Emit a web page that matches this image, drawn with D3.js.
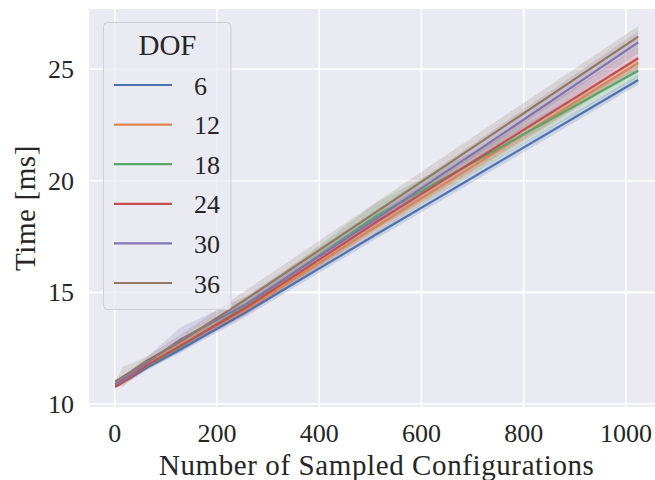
<!DOCTYPE html>
<html>
<head>
<meta charset="utf-8">
<script src="https://cdn.jsdelivr.net/npm/d3@7"></script>
<style>
  html, body { margin: 0; padding: 0; background: #fff; }
  svg { display: block; }
  text { font-family: "Liberation Serif", "DejaVu Serif", serif; fill: #262626; }
</style>
</head>
<body>
<svg id="chart"></svg>
<script>
// Sampled configurations (x)
const samples = [1, 2, 4, 8, 16, 32, 64, 128, 256, 512, 1024];

// DOF groups
const dofs = ['6', '12', '18', '24', '30', '36'];
const colors = ['#4c72b0', '#dd8452', '#55a868', '#c44e52', '#8172b3', '#937860'];

// Mean time [ms] per DOF
const time6  = [10.80, 10.81, 10.83, 10.88, 10.98, 11.18, 11.64, 12.44, 14.10, 17.60, 24.51];
const time12 = [10.88, 10.89, 10.91, 10.96, 11.06, 11.28, 11.76, 12.62, 14.22, 17.95, 25.28];
const time18 = [10.86, 10.87, 10.89, 10.94, 11.04, 11.24, 11.72, 12.55, 14.38, 18.42, 24.92];
const time24 = [10.76, 10.78, 10.81, 10.86, 10.98, 11.22, 11.74, 12.60, 14.30, 18.15, 25.48];
const time30 = [10.90, 10.91, 10.93, 10.99, 11.10, 11.34, 11.86, 12.88, 14.46, 18.30, 26.19];
const time36 = [11.00, 11.02, 11.05, 11.10, 11.22, 11.45, 11.95, 12.79, 14.68, 18.60, 26.45];

// Half-width of the confidence band per DOF
const ci6  = [0.06, 0.05, 0.05, 0.06, 0.08, 0.10, 0.12, 0.15, 0.20, 0.20, 0.22];
const ci12 = [0.08, 0.06, 0.06, 0.08, 0.12, 0.12, 0.15, 0.20, 0.25, 0.30, 0.32];
const ci18 = [0.08, 0.06, 0.06, 0.08, 0.12, 0.12, 0.15, 0.20, 0.25, 0.60, 0.30];
const ci24 = [0.10, 0.08, 0.08, 0.10, 0.15, 0.15, 0.18, 0.25, 0.30, 0.35, 0.50];
const ci30 = [0.10, 0.08, 0.08, 0.10, 0.15, 0.20, 0.25, 0.55, 0.35, 0.40, 0.50];
const ci36 = [0.12, 0.10, 0.10, 0.20, 0.45, 0.35, 0.20, 0.30, 0.40, 0.45, 0.48];

const xTicks = [0, 200, 400, 600, 800, 1000];
const yTicks = [10, 15, 20, 25];

const means = [time6, time12, time18, time24, time30, time36];
const bands = [ci6, ci12, ci18, ci24, ci30, ci36];

const width = 655, height = 480;
const plot = { left: 89, right: 664.4, top: 9, bottom: 407 };

const svg = d3.select('#chart')
  .attr('width', width)
  .attr('height', height);

const xScale = d3.scaleLinear()
  .domain([-50.15, 1075.15])
  .range([plot.left, plot.right]);

const yScale = d3.scaleLinear()
  .domain([9.866, 27.687])
  .range([plot.bottom, plot.top]);

// Background
svg.append('rect')
  .attr('x', plot.left)
  .attr('y', plot.top)
  .attr('width', plot.right - plot.left)
  .attr('height', plot.bottom - plot.top)
  .attr('fill', '#eaeaf2');

// Grid
svg.append('g')
  .selectAll('line')
  .data(xTicks)
  .join('line')
  .attr('x1', d => xScale(d))
  .attr('x2', d => xScale(d))
  .attr('y1', plot.top)
  .attr('y2', plot.bottom)
  .attr('stroke', '#fff')
  .attr('stroke-width', 1.6);

svg.append('g')
  .selectAll('line')
  .data(yTicks)
  .join('line')
  .attr('x1', plot.left)
  .attr('x2', plot.right)
  .attr('y1', d => yScale(d))
  .attr('y2', d => yScale(d))
  .attr('stroke', '#fff')
  .attr('stroke-width', 1.6);

// Tick labels
svg.append('g')
  .selectAll('text')
  .data(xTicks)
  .join('text')
  .attr('x', d => xScale(d))
  .attr('y', 442)
  .attr('text-anchor', 'middle')
  .attr('font-size', 26)
  .text(d => d);

svg.append('g')
  .selectAll('text')
  .data(yTicks)
  .join('text')
  .attr('x', 74)
  .attr('y', d => yScale(d) + 9)
  .attr('text-anchor', 'end')
  .attr('font-size', 26)
  .text(d => d);

// Axis labels
svg.append('text')
  .attr('x', (plot.left + plot.right) / 2)
  .attr('y', 475)
  .attr('text-anchor', 'middle')
  .attr('font-size', 29)
  .attr('letter-spacing', 0.6)
  .text('Number of Sampled Configurations');

svg.append('text')
  .attr('transform', `translate(35,${(plot.top + plot.bottom) / 2}) rotate(-90)`)
  .attr('text-anchor', 'middle')
  .attr('font-size', 29)
  .attr('letter-spacing', 0.6)
  .text('Time [ms]');

// Series
const series = dofs.map((dof, i) => ({
  dof,
  color: colors[i],
  points: samples.map((x, j) => ({ x, y: means[i][j], lo: means[i][j] - bands[i][j], hi: means[i][j] + bands[i][j] }))
}));

const area = d3.area()
  .x(d => xScale(d.x))
  .y0(d => yScale(d.lo))
  .y1(d => yScale(d.hi));

const line = d3.line()
  .x(d => xScale(d.x))
  .y(d => yScale(d.y));

const g = svg.append('g');

series.forEach(s => {
  g.append('path')
    .datum(s.points)
    .attr('fill', s.color)
    .attr('fill-opacity', 0.2)
    .attr('d', area);
});

series.forEach(s => {
  g.append('path')
    .datum(s.points)
    .attr('fill', 'none')
    .attr('stroke', s.color)
    .attr('stroke-width', 2.2)
    .attr('d', line);
});

// Legend
const legend = svg.append('g');

legend.append('rect')
  .attr('x', 103.5)
  .attr('y', 22.5)
  .attr('width', 127.5)
  .attr('height', 287)
  .attr('rx', 4)
  .attr('fill', '#eaeaf2')
  .attr('fill-opacity', 0.8)
  .attr('stroke', '#cfcfd6')
  .attr('stroke-width', 1);

legend.append('text')
  .attr('x', 167.5)
  .attr('y', 55)
  .attr('text-anchor', 'middle')
  .attr('font-size', 29)
  .text('DOF');

const item = legend.selectAll('g.item')
  .data(series)
  .join('g')
  .attr('class', 'item')
  .attr('transform', (d, i) => `translate(0,${85 + i * 39.6})`);

item.append('line')
  .attr('x1', 114)
  .attr('x2', 172)
  .attr('stroke', d => d.color)
  .attr('stroke-width', 2.2);

item.append('text')
  .attr('x', 194)
  .attr('y', 9.5)
  .attr('font-size', 26)
  .text(d => d.dof);
</script>
</body>
</html>
